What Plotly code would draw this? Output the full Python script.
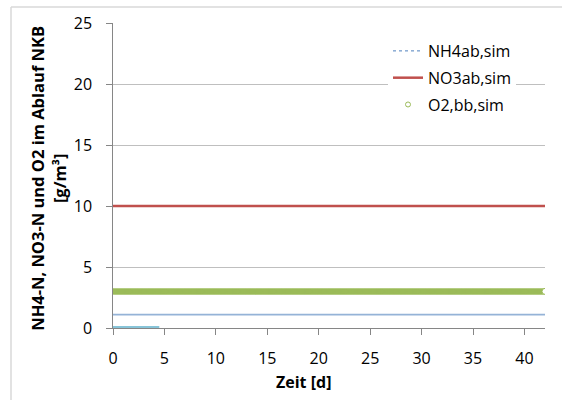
import numpy as np
import plotly.graph_objects as go

# Simulation output (time in days, concentrations in g/m³)
t_sim = np.round(np.arange(0, 42.01, 0.1), 2).tolist()
nh4_ab_t = [0, 42]
nh4_ab = [1.1, 1.1]
nh4_start_t = [0, 4.5]
nh4_start = [0.08, 0.08]
no3_ab_t = [0, 42]
no3_ab = [10.0, 10.0]
o2_bb = [3.0] * len(t_sim)

x_ticks = [0, 5, 10, 15, 20, 25, 30, 35, 40]
y_ticks = [0, 5, 10, 15, 20, 25]

FONT = "Open Sans, Lato, sans-serif"
GREEN = "#9BBB59"
BLUE = "#95B3D7"

# plot-area pixel geometry used for placing the frame, legend and titles
L, R, T, B = 113, 545, 23, 328.5
PW, PH = R - L, B - T

fig = go.Figure()

fig.add_trace(go.Scatter(
    x=nh4_start_t, y=nh4_start, mode="lines",
    line=dict(color="#5FB0CB", width=1.6), showlegend=False, hoverinfo="skip"))

fig.add_trace(go.Scatter(
    x=nh4_ab_t, y=nh4_ab, mode="lines", name="NH4ab,sim",
    line=dict(color=BLUE, width=1.6), showlegend=False))

fig.add_trace(go.Scatter(
    x=no3_ab_t, y=no3_ab, mode="lines", name="NO3ab,sim",
    line=dict(color="#C0504D", width=2.5), showlegend=False))

# O2 markers: overlapping circles form a solid band, last sample left open
n = len(t_sim)
fig.add_trace(go.Scatter(
    x=t_sim, y=o2_bb, mode="markers", name="O2,bb,sim", showlegend=False,
    marker=dict(symbol="circle", size=6,
                color=[GREEN] * (n - 1) + ["white"],
                line=dict(color=GREEN, width=[0] * (n - 1) + [1]))))

# legend keys
fig.add_trace(go.Scatter(
    x=[None], y=[None], mode="lines", name="NH4ab,sim", legendgroup="a",
    line=dict(color="#4F81BD", width=1, dash="dot")))
fig.add_trace(go.Scatter(
    x=[None], y=[None], mode="lines", name="NO3ab,sim", legendgroup="b",
    line=dict(color="#C0504D", width=2.5)))
fig.add_trace(go.Scatter(
    x=[None], y=[None], mode="markers", name="O2,bb,sim", legendgroup="c",
    marker=dict(symbol="circle", size=5, color="white",
                line=dict(color=GREEN, width=1))))

fig.update_layout(
    width=562, height=400,
    margin=dict(l=L, r=562 - R, t=T, b=400 - B),
    paper_bgcolor="white", plot_bgcolor="white",
    font=dict(family=FONT, size=16, color="black"),
    showlegend=True,
    legend=dict(
        x=(388 - L) / PW, y=(B - 34) / PH,
        xanchor="left", yanchor="top",
        bgcolor="white", borderwidth=0,
        font=dict(family=FONT, size=16, color="black"),
        itemwidth=30, tracegroupgap=3,
        traceorder="grouped",
    ),
    xaxis=dict(
        range=[0, 42], tickvals=x_ticks, ticktext=[str(v) for v in x_ticks],
        showgrid=False, zeroline=False, automargin=False,
        showline=True, linecolor="#868686", linewidth=1,
        ticks="outside", ticklen=6, tickcolor="#868686",
        ticklabelstandoff=10,
        tickfont=dict(family=FONT, size=16),
    ),
    yaxis=dict(
        range=[0, 25], tickvals=y_ticks,
        ticktext=[str(v) + "\u2002\u2009" for v in y_ticks],
        showgrid=True, gridcolor="#BFBFBF", gridwidth=1, zeroline=False,
        automargin=False,
        showline=True, linecolor="#868686", linewidth=1,
        ticks="outside", ticklen=6, tickcolor="#868686",
        tickfont=dict(family=FONT, size=16),
    ),
    annotations=[
        dict(text="<b>NH4-N, NO3-N und O2 im Ablauf NKB<br>[g/m³]</b>",
             xref="paper", yref="paper", textangle=-90,
             x=(48 - L) / PW, y=(B - 179) / PH, xanchor="center", yanchor="middle",
             showarrow=False, font=dict(family=FONT, size=16.5, color="black")),
        dict(text="<b>Zeit [d]</b>", xref="paper", yref="paper",
             x=(303 - L) / PW, y=(B - 383) / PH, xanchor="center", yanchor="middle",
             showarrow=False, font=dict(family=FONT, size=16, color="black")),
    ],
    shapes=[
        dict(type="line", xref="paper", yref="paper",
             x0=(11 - L) / PW, x1=(600 - L) / PW,
             y0=(B - 7) / PH, y1=(B - 7) / PH,
             line=dict(color="#D9D9D9", width=1.5)),
        dict(type="line", xref="paper", yref="paper",
             x0=(11 - L) / PW, x1=(11 - L) / PW,
             y0=(B - 7) / PH, y1=(B - 420) / PH,
             line=dict(color="#D9D9D9", width=1.5)),
    ],
)

fig.write_html("out.html")
